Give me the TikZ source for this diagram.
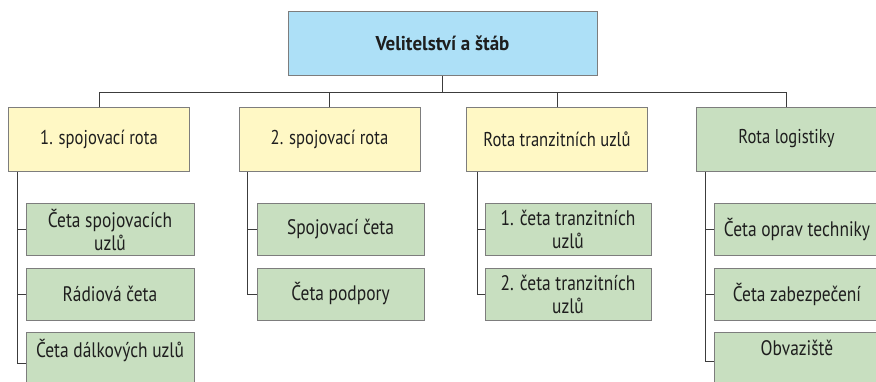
\documentclass[tikz,border=0pt]{standalone}
\usepackage{fontspec}
\setmainfont{PT Sans}[FakeStretch=0.83]
\newfontfamily\hqfont{PT Sans}[FakeStretch=0.95]
\definecolor{hqblue}{RGB}{173,224,247}
\definecolor{coyellow}{RGB}{255,248,197}
\definecolor{plgreen}{RGB}{200,223,192}
\definecolor{boxline}{RGB}{125,125,125}
\definecolor{conline}{RGB}{60,60,60}
\definecolor{txt}{RGB}{30,30,30}
\begin{document}
\begin{tikzpicture}[x=1pt,y=-1pt,
  box/.style={draw=boxline,line width=1pt,inner sep=0pt,align=center,text=txt,
    font=\fontsize{20}{23}\selectfont},
  hq/.style={box,fill=hqblue,minimum width=309pt,minimum height=64pt,font=\hqfont\fontsize{20}{23}\selectfont\bfseries},
  co/.style={box,fill=coyellow,minimum width=181pt,minimum height=64pt},
  colg/.style={box,fill=plgreen,minimum width=181pt,minimum height=64pt},
  pl/.style={box,fill=plgreen,minimum height=52pt,font=\fontsize{21}{23}\selectfont},
  con/.style={draw=conline,line width=0.8pt}]
\useasboundingbox (0,0) rectangle (876,381);
\node[hq] (top) at (442.5,43) {Velitelství a štáb};
\node[co] (b1) at (99,139) {1. spojovací rota};
\node[co] (b2) at (329.5,139) {2. spojovací rota};
\node[co] (b3) at (557,139) {Rota tranzitních uzlů};
\node[colg] (b4) at (786.5,139) {Rota logistiky};
\node[pl,minimum width=168pt] (a1) at (110,229.5) {Četa spojovacích\\uzlů};
\node[pl,minimum width=168pt] (a2) at (110,294) {Rádiová četa};
\node[pl,minimum width=168pt,text depth=20pt] (a3) at (110,358) {Četa dálkových uzlů};
\node[pl,minimum width=167pt] (c1) at (340.5,229.5) {Spojovací četa};
\node[pl,minimum width=167pt] (c2) at (340.5,294) {Četa podpory};
\node[pl,minimum width=166pt] (d1) at (568,229.5) {1. četa tranzitních\\uzlů};
\node[pl,minimum width=166pt] (d2) at (568,294) {2. četa tranzitních\\uzlů};
\node[pl,minimum width=166pt] (e1) at (797,229.5) {Četa oprav techniky};
\node[pl,minimum width=166pt] (e2) at (797,294) {Četa zabezpečení};
\node[pl,minimum width=166pt,text depth=20pt] (e3) at (797,358) {Obvaziště};
\coordinate (bus) at (442.5,92);
\draw[con] (top.south) -- (bus);
\draw[con] (b1.north) |- (bus);
\draw[con] (b2.north) |- (bus);
\draw[con] (b3.north) |- (bus);
\draw[con] (b4.north) |- (bus);
\coordinate (s1) at ([xshift=9pt]b1.south west);
\coordinate (s2) at ([xshift=9pt]b2.south west);
\coordinate (s3) at ([xshift=11pt]b3.south west);
\coordinate (s4) at ([xshift=10pt]b4.south west);
\draw[con] (s1) |- ([yshift=-5pt]a3.west);
\draw[con] (s1 |- a1.west) -- (a1.west);
\draw[con] (s1 |- a2.west) -- (a2.west);
\draw[con] (s2) |- (c2.west);
\draw[con] (s2 |- c1.west) -- (c1.west);
\draw[con] (s3) |- (d2.west);
\draw[con] (s3 |- d1.west) -- (d1.west);
\draw[con] (s4) |- ([yshift=-3pt]e3.west);
\draw[con] (s4 |- e1.west) -- (e1.west);
\draw[con] (s4 |- e2.west) -- (e2.west);
\end{tikzpicture}
\end{document}
